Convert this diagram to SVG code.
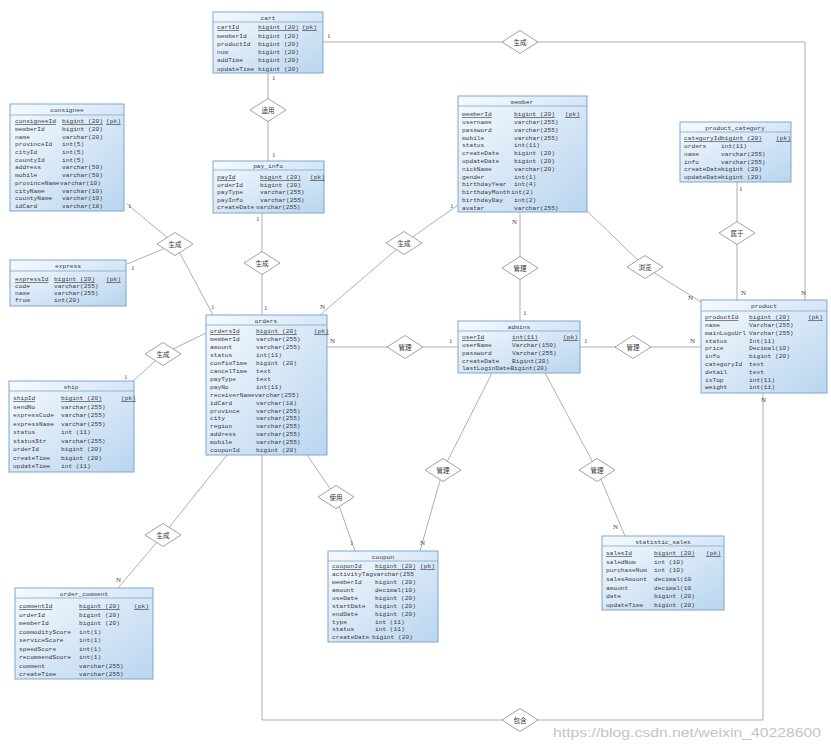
<svg xmlns="http://www.w3.org/2000/svg" xmlns:xlink="http://www.w3.org/1999/xlink" width="831" height="751" viewBox="0 0 831 751">
<defs>
<linearGradient id="g" x1="0" y1="0" x2="1" y2="1">
<stop offset="0" stop-color="#f6fafe"/>
<stop offset="1" stop-color="#b9d5ef"/>
</linearGradient>
<polygon id="dia" points="-18,0 0,-11.5 18,0 0,11.5" fill="#ffffff" stroke="#8a8a8a" stroke-width="0.8"/>
</defs>
<style>
.box{fill:url(#g);stroke:#7ba7d3;stroke-width:1}
.hl{stroke:#7ba7d3;stroke-width:0.8}
.t{font-family:"Liberation Mono",monospace;font-size:6.2px;fill:#3a3a3a}
.ttl{font-family:"Liberation Mono",monospace;font-size:6.2px;fill:#3a3a3a;text-anchor:middle}
.pk{text-decoration:underline}
.rl{font-family:"Noto Sans CJK SC",sans-serif;font-size:6.5px;fill:#333;text-anchor:middle}
.cd{font-family:"Liberation Serif",serif;font-size:7px;fill:#444}
.ln{stroke:#9a9a9a;stroke-width:0.8;fill:none}
.wm{font-family:"Liberation Sans",sans-serif;font-size:13px;fill:#c4c4c4}
</style>
<rect width="831" height="751" fill="#ffffff"/>

<g id="connectors">
<polyline class="ln" points="323,42 805,42 805,300"/>
<line class="ln" x1="268" y1="73" x2="268" y2="161"/>
<line class="ln" x1="127" y1="204" x2="175" y2="244"/>
<line class="ln" x1="127" y1="264" x2="175" y2="244"/>
<line class="ln" x1="175" y1="244" x2="213" y2="315"/>
<line class="ln" x1="262" y1="213" x2="262" y2="315"/>
<polyline class="ln" points="458,205 404,243 320,315"/>
<line class="ln" x1="520" y1="212" x2="520" y2="321"/>
<polyline class="ln" points="586,210 645,267 701,302"/>
<line class="ln" x1="737" y1="182" x2="737" y2="300"/>
<line class="ln" x1="327" y1="347" x2="458" y2="347"/>
<line class="ln" x1="580" y1="347" x2="701" y2="347"/>
<polyline class="ln" points="492,373 443,470 420,551"/>
<polyline class="ln" points="545,373 597,470 625,536"/>
<polyline class="ln" points="307,455 336,497 355,551"/>
<polyline class="ln" points="206,333 163,354 133,381"/>
<polyline class="ln" points="227,455 163,535 118,588"/>
<polyline class="ln" points="262,455 262,720 763,720 763,393"/>
</g>

<g id="relationships">
<g id="r1"><use xlink:href="#dia" x="520" y="42"/><text class="rl" x="520" y="44.5">生成</text></g>
<g id="r2"><use xlink:href="#dia" x="268" y="110"/><text class="rl" x="268" y="112.5">适用</text></g>
<g id="r3"><use xlink:href="#dia" x="175" y="244"/><text class="rl" x="175" y="246.5">生成</text></g>
<g id="r4"><use xlink:href="#dia" x="262" y="263"/><text class="rl" x="262" y="265.5">生成</text></g>
<g id="r5"><use xlink:href="#dia" x="404" y="243"/><text class="rl" x="404" y="245.5">生成</text></g>
<g id="r6"><use xlink:href="#dia" x="520" y="268"/><text class="rl" x="520" y="270.5">管理</text></g>
<g id="r7"><use xlink:href="#dia" x="645" y="267"/><text class="rl" x="645" y="269.5">浏览</text></g>
<g id="r8"><use xlink:href="#dia" x="737" y="233"/><text class="rl" x="737" y="235.5">属于</text></g>
<g id="r9"><use xlink:href="#dia" x="405" y="347"/><text class="rl" x="405" y="349.5">管理</text></g>
<g id="r10"><use xlink:href="#dia" x="633" y="347"/><text class="rl" x="633" y="349.5">管理</text></g>
<g id="r11"><use xlink:href="#dia" x="163" y="354"/><text class="rl" x="163" y="356.5">生成</text></g>
<g id="r12"><use xlink:href="#dia" x="443" y="470"/><text class="rl" x="443" y="472.5">管理</text></g>
<g id="r13"><use xlink:href="#dia" x="597" y="470"/><text class="rl" x="597" y="472.5">管理</text></g>
<g id="r14"><use xlink:href="#dia" x="336" y="497"/><text class="rl" x="336" y="499.5">使用</text></g>
<g id="r15"><use xlink:href="#dia" x="163" y="535"/><text class="rl" x="163" y="537.5">生成</text></g>
<g id="r16"><use xlink:href="#dia" x="520" y="720"/><text class="rl" x="520" y="722.5">包含</text></g>
</g>

<g id="cardinalities">
<text class="cd" x="327" y="38">1</text>
<text class="cd" x="272" y="80">1</text>
<text class="cd" x="272" y="157">1</text>
<text class="cd" x="128" y="208">1</text>
<text class="cd" x="131" y="270">1</text>
<text class="cd" x="211" y="309">1</text>
<text class="cd" x="256" y="221">1</text>
<text class="cd" x="264" y="310">1</text>
<text class="cd" x="450" y="208">1</text>
<text class="cd" x="320" y="309">N</text>
<text class="cd" x="512" y="224">N</text>
<text class="cd" x="523" y="315">1</text>
<text class="cd" x="688" y="300">N</text>
<text class="cd" x="739" y="191">1</text>
<text class="cd" x="741" y="295">N</text>
<text class="cd" x="801" y="295">N</text>
<text class="cd" x="330" y="343">N</text>
<text class="cd" x="449" y="343">1</text>
<text class="cd" x="584" y="343">1</text>
<text class="cd" x="690" y="343">N</text>
<text class="cd" x="420" y="545">N</text>
<text class="cd" x="613" y="529">N</text>
<text class="cd" x="350" y="545">1</text>
<text class="cd" x="124" y="379">1</text>
<text class="cd" x="116" y="582">N</text>
<text class="cd" x="761" y="402">N</text>
</g>

<g id="cart">
<rect class="box" x="213" y="12" width="110" height="61"/>
<line class="hl" x1="213" y1="22" x2="323" y2="22"/>
<text class="ttl" x="268" y="19.5">cart</text>
<text class="t" y="29.2"><tspan class="pk" x="217">cartId</tspan><tspan class="pk" x="258">bigint (20)</tspan><tspan class="pk" x="302">(pk)</tspan></text>
<text class="t" y="37.5"><tspan x="217">memberId</tspan><tspan x="258">bigint (20)</tspan></text>
<text class="t" y="45.8"><tspan x="217">productId</tspan><tspan x="258">bigint (20)</tspan></text>
<text class="t" y="54.1"><tspan x="217">num</tspan><tspan x="258">bigint (20)</tspan></text>
<text class="t" y="62.4"><tspan x="217">addTime</tspan><tspan x="258">bigint (20)</tspan></text>
<text class="t" y="70.7"><tspan x="217">updateTime</tspan><tspan x="258">bigint (20)</tspan></text>
</g>

<g id="consignee">
<rect class="box" x="10" y="104" width="114" height="107"/>
<line class="hl" x1="10" y1="115" x2="124" y2="115"/>
<text class="ttl" x="67" y="112">consignee</text>
<text class="t" y="123.2"><tspan class="pk" x="15">consigneeId</tspan><tspan class="pk" x="62">bigint (20)</tspan><tspan class="pk" x="106">(pk)</tspan></text>
<text class="t" y="130.9"><tspan x="15">memberId</tspan><tspan x="62">bigint (20)</tspan></text>
<text class="t" y="138.6"><tspan x="15">name</tspan><tspan x="62">varchar(20)</tspan></text>
<text class="t" y="146.3"><tspan x="15">provinceId</tspan><tspan x="62">int(5)</tspan></text>
<text class="t" y="154"><tspan x="15">cityId</tspan><tspan x="62">int(5)</tspan></text>
<text class="t" y="161.7"><tspan x="15">countyId</tspan><tspan x="62">int(5)</tspan></text>
<text class="t" y="169.4"><tspan x="15">address</tspan><tspan x="62">varchar(50)</tspan></text>
<text class="t" y="177.1"><tspan x="15">mobile</tspan><tspan x="62">varchar(50)</tspan></text>
<text class="t" y="184.8"><tspan x="15">provinceName</tspan><tspan x="60">varchar(10)</tspan></text>
<text class="t" y="192.5"><tspan x="15">cityName</tspan><tspan x="62">varchar(10)</tspan></text>
<text class="t" y="200.2"><tspan x="15">countyName</tspan><tspan x="62">varchar(10)</tspan></text>
<text class="t" y="207.9"><tspan x="15">idCard</tspan><tspan x="62">varchar(18)</tspan></text>
</g>

<g id="pay_info">
<rect class="box" x="213" y="161" width="111" height="52"/>
<line class="hl" x1="213" y1="170" x2="324" y2="170"/>
<text class="ttl" x="268" y="168">pay_info</text>
<text class="t" y="179.2"><tspan class="pk" x="217">payId</tspan><tspan class="pk" x="260">bigint (20)</tspan><tspan class="pk" x="310">(pk)</tspan></text>
<text class="t" y="186.7"><tspan x="217">orderId</tspan><tspan x="260">bigint (20)</tspan></text>
<text class="t" y="194.2"><tspan x="217">payType</tspan><tspan x="260">varchar(255)</tspan></text>
<text class="t" y="201.7"><tspan x="217">payInfo</tspan><tspan x="260">varchar(255)</tspan></text>
<text class="t" y="209.2"><tspan x="217">createDate</tspan><tspan x="256">varchar(255)</tspan></text>
</g>

<g id="member">
<rect class="box" x="458" y="96" width="129" height="116"/>
<line class="hl" x1="458" y1="106" x2="587" y2="106"/>
<text class="ttl" x="522" y="103.5">member</text>
<text class="t" y="116.2"><tspan class="pk" x="462">memberId</tspan><tspan class="pk" x="514">bigint (20)</tspan><tspan class="pk" x="565">(pk)</tspan></text>
<text class="t" y="124"><tspan x="462">username</tspan><tspan x="514">varchar(255)</tspan></text>
<text class="t" y="131.8"><tspan x="462">password</tspan><tspan x="514">varchar(255)</tspan></text>
<text class="t" y="139.6"><tspan x="462">mobile</tspan><tspan x="514">varchar(255)</tspan></text>
<text class="t" y="147.4"><tspan x="462">status</tspan><tspan x="514">int(11)</tspan></text>
<text class="t" y="155.2"><tspan x="462">createDate</tspan><tspan x="514">bigint (20)</tspan></text>
<text class="t" y="163"><tspan x="462">updateDate</tspan><tspan x="514">bigint (20)</tspan></text>
<text class="t" y="170.8"><tspan x="462">nickName</tspan><tspan x="514">varchar(20)</tspan></text>
<text class="t" y="178.6"><tspan x="462">gender</tspan><tspan x="514">int(1)</tspan></text>
<text class="t" y="186.4"><tspan x="462">birthdayYear</tspan><tspan x="514">int(4)</tspan></text>
<text class="t" y="194.2"><tspan x="462">birthdayMonth</tspan><tspan x="511">int(2)</tspan></text>
<text class="t" y="202"><tspan x="462">birthdayDay</tspan><tspan x="514">int(2)</tspan></text>
<text class="t" y="209.8"><tspan x="462">avatar</tspan><tspan x="514">varchar(255)</tspan></text>
</g>

<g id="product_category">
<rect class="box" x="680" y="122" width="111" height="60"/>
<line class="hl" x1="680" y1="132" x2="791" y2="132"/>
<text class="ttl" x="735" y="129.5">product_category</text>
<text class="t" y="140.2"><tspan class="pk" x="684">categoryId</tspan><tspan class="pk" x="721">bigint (20)</tspan><tspan class="pk" x="776">(pk)</tspan></text>
<text class="t" y="148"><tspan x="684">orders</tspan><tspan x="721">int(11)</tspan></text>
<text class="t" y="155.8"><tspan x="684">name</tspan><tspan x="721">varchar(255)</tspan></text>
<text class="t" y="163.6"><tspan x="684">info</tspan><tspan x="721">varchar(255)</tspan></text>
<text class="t" y="171.4"><tspan x="684">createDate</tspan><tspan x="721">bigint (20)</tspan></text>
<text class="t" y="179.2"><tspan x="684">updateDate</tspan><tspan x="721">bigint (20)</tspan></text>
</g>

<g id="express">
<rect class="box" x="10" y="260" width="116" height="46"/>
<line class="hl" x1="10" y1="271" x2="126" y2="271"/>
<text class="ttl" x="68" y="268">express</text>
<text class="t" y="281.2"><tspan class="pk" x="15">expressId</tspan><tspan class="pk" x="54">bigint (20)</tspan><tspan class="pk" x="106">(pk)</tspan></text>
<text class="t" y="288"><tspan x="15">code</tspan><tspan x="54">varchar(255)</tspan></text>
<text class="t" y="294.8"><tspan x="15">name</tspan><tspan x="54">varchar(255)</tspan></text>
<text class="t" y="301.6"><tspan x="15">from</tspan><tspan x="54">int(20)</tspan></text>
</g>

<g id="orders">
<rect class="box" x="206" y="315" width="121" height="140"/>
<line class="hl" x1="206" y1="325" x2="327" y2="325"/>
<text class="ttl" x="266" y="322.5">orders</text>
<text class="t" y="333.2"><tspan class="pk" x="210">ordersId</tspan><tspan class="pk" x="256">bigint (20)</tspan><tspan class="pk" x="314">(pk)</tspan></text>
<text class="t" y="341.1"><tspan x="210">memberId</tspan><tspan x="256">varchar(255)</tspan></text>
<text class="t" y="349.1"><tspan x="210">amount</tspan><tspan x="256">varchar(255)</tspan></text>
<text class="t" y="357"><tspan x="210">status</tspan><tspan x="256">int(11)</tspan></text>
<text class="t" y="364.9"><tspan x="210">confimTime</tspan><tspan x="256">bigint (20)</tspan></text>
<text class="t" y="372.9"><tspan x="210">cancelTime</tspan><tspan x="256">text</tspan></text>
<text class="t" y="380.8"><tspan x="210">payType</tspan><tspan x="256">text</tspan></text>
<text class="t" y="388.7"><tspan x="210">payNo</tspan><tspan x="256">int(11)</tspan></text>
<text class="t" y="396.6"><tspan x="210">receiverName</tspan><tspan x="254.6">varchar(255)</tspan></text>
<text class="t" y="404.6"><tspan x="210">idCard</tspan><tspan x="256">varchar(18)</tspan></text>
<text class="t" y="412.5"><tspan x="210">province</tspan><tspan x="256">varchar(255)</tspan></text>
<text class="t" y="420.4"><tspan x="210">city</tspan><tspan x="256">varchar(255)</tspan></text>
<text class="t" y="428.4"><tspan x="210">region</tspan><tspan x="256">varchar(255)</tspan></text>
<text class="t" y="436.3"><tspan x="210">address</tspan><tspan x="256">varchar(255)</tspan></text>
<text class="t" y="444.2"><tspan x="210">mobile</tspan><tspan x="256">varchar(255)</tspan></text>
<text class="t" y="452.2"><tspan x="210">couponId</tspan><tspan x="256">bigint (20)</tspan></text>
</g>

<g id="admins">
<rect class="box" x="458" y="321" width="122" height="52"/>
<line class="hl" x1="458" y1="331" x2="580" y2="331"/>
<text class="ttl" x="519" y="328.5">admins</text>
<text class="t" y="339.2"><tspan class="pk" x="462">userId</tspan><tspan class="pk" x="512">int(11)</tspan><tspan class="pk" x="563">(pk)</tspan></text>
<text class="t" y="347"><tspan x="462">userName</tspan><tspan x="512">Varchar(150)</tspan></text>
<text class="t" y="354.7"><tspan x="462">password</tspan><tspan x="512">Varchar(255)</tspan></text>
<text class="t" y="362.5"><tspan x="462">createDate</tspan><tspan x="512">Bigint(20)</tspan></text>
<text class="t" y="370.2"><tspan x="462">lastLoginDate</tspan><tspan x="510.4">Bigint(20)</tspan></text>
</g>

<g id="product">
<rect class="box" x="701" y="300" width="126" height="93"/>
<line class="hl" x1="701" y1="311" x2="827" y2="311"/>
<text class="ttl" x="764" y="308">product</text>
<text class="t" y="319.2"><tspan class="pk" x="705">productId</tspan><tspan class="pk" x="749">bigint (20)</tspan><tspan class="pk" x="808">(pk)</tspan></text>
<text class="t" y="327"><tspan x="705">name</tspan><tspan x="749">Varchar(255)</tspan></text>
<text class="t" y="334.8"><tspan x="705">mainLogoUrl</tspan><tspan x="749">Varchar(255)</tspan></text>
<text class="t" y="342.6"><tspan x="705">status</tspan><tspan x="749">Int(11)</tspan></text>
<text class="t" y="350.4"><tspan x="705">price</tspan><tspan x="749">Decimal(10)</tspan></text>
<text class="t" y="358.2"><tspan x="705">info</tspan><tspan x="749">bigint (20)</tspan></text>
<text class="t" y="366"><tspan x="705">categoryId</tspan><tspan x="749">text</tspan></text>
<text class="t" y="373.8"><tspan x="705">detail</tspan><tspan x="749">text</tspan></text>
<text class="t" y="381.6"><tspan x="705">isTop</tspan><tspan x="749">int(11)</tspan></text>
<text class="t" y="389.4"><tspan x="705">weight</tspan><tspan x="749">int(11)</tspan></text>
</g>

<g id="ship">
<rect class="box" x="9" y="381" width="125" height="91"/>
<line class="hl" x1="9" y1="391" x2="134" y2="391"/>
<text class="ttl" x="71" y="388.5">ship</text>
<text class="t" y="400.2"><tspan class="pk" x="13">shipId</tspan><tspan class="pk" x="61">bigint (20)</tspan><tspan class="pk" x="121">(pk)</tspan></text>
<text class="t" y="408.7"><tspan x="13">sendNo</tspan><tspan x="61">varchar(255)</tspan></text>
<text class="t" y="417.2"><tspan x="13">expressCode</tspan><tspan x="61">varchar(255)</tspan></text>
<text class="t" y="425.7"><tspan x="13">expressName</tspan><tspan x="61">varchar(255)</tspan></text>
<text class="t" y="434.2"><tspan x="13">status</tspan><tspan x="61">int (11)</tspan></text>
<text class="t" y="442.7"><tspan x="13">statusStr</tspan><tspan x="61">varchar(255)</tspan></text>
<text class="t" y="451.2"><tspan x="13">orderId</tspan><tspan x="61">bigint (20)</tspan></text>
<text class="t" y="459.7"><tspan x="13">createTime</tspan><tspan x="61">bigint (20)</tspan></text>
<text class="t" y="468.2"><tspan x="13">updateTime</tspan><tspan x="61">int (11)</tspan></text>
</g>

<g id="coupon">
<rect class="box" x="328" y="551" width="110" height="91"/>
<line class="hl" x1="328" y1="561" x2="438" y2="561"/>
<text class="ttl" x="383" y="558.5">coupon</text>
<text class="t" y="568.2"><tspan class="pk" x="332">couponId</tspan><tspan class="pk" x="375">bigint (20)</tspan><tspan class="pk" x="420">(pk)</tspan></text>
<text class="t" y="576.1"><tspan x="332">activityTag</tspan><tspan x="373">varchar(255</tspan></text>
<text class="t" y="584"><tspan x="332">memberId</tspan><tspan x="375">bigint (20)</tspan></text>
<text class="t" y="591.9"><tspan x="332">amount</tspan><tspan x="375">decimal(10)</tspan></text>
<text class="t" y="599.8"><tspan x="332">useDate</tspan><tspan x="375">bigint (20)</tspan></text>
<text class="t" y="607.7"><tspan x="332">startDate</tspan><tspan x="375">bigint (20)</tspan></text>
<text class="t" y="615.6"><tspan x="332">endDate</tspan><tspan x="375">bigint (20)</tspan></text>
<text class="t" y="623.5"><tspan x="332">type</tspan><tspan x="375">int (11)</tspan></text>
<text class="t" y="631.4"><tspan x="332">status</tspan><tspan x="375">int (11)</tspan></text>
<text class="t" y="639.3"><tspan x="332">createDate</tspan><tspan x="372">bigint (20)</tspan></text>
</g>

<g id="statistic_sales">
<rect class="box" x="602" y="536" width="122" height="74"/>
<line class="hl" x1="602" y1="546" x2="724" y2="546"/>
<text class="ttl" x="663" y="543.5">statistic_sales</text>
<text class="t" y="555.2"><tspan class="pk" x="606">salesId</tspan><tspan class="pk" x="654">bigint (20)</tspan><tspan class="pk" x="706">(pk)</tspan></text>
<text class="t" y="563.8"><tspan x="606">saledNum</tspan><tspan x="654">int (10)</tspan></text>
<text class="t" y="572.4"><tspan x="606">purchaseNum</tspan><tspan x="654">int (10)</tspan></text>
<text class="t" y="581"><tspan x="606">salesAmount</tspan><tspan x="654">decimal(10</tspan></text>
<text class="t" y="589.6"><tspan x="606">amount</tspan><tspan x="654">decimal(10</tspan></text>
<text class="t" y="598.2"><tspan x="606">date</tspan><tspan x="654">bigint (20)</tspan></text>
<text class="t" y="606.8"><tspan x="606">updateTime</tspan><tspan x="654">bigint (20)</tspan></text>
</g>

<g id="order_comment">
<rect class="box" x="15" y="588" width="138" height="91"/>
<line class="hl" x1="15" y1="598" x2="153" y2="598"/>
<text class="ttl" x="84" y="595.5">order_comment</text>
<text class="t" y="608.2"><tspan class="pk" x="19">commentId</tspan><tspan class="pk" x="79">bigint (20)</tspan><tspan class="pk" x="134">(pk)</tspan></text>
<text class="t" y="616.7"><tspan x="19">orderId</tspan><tspan x="79">bigint (20)</tspan></text>
<text class="t" y="625.2"><tspan x="19">memberId</tspan><tspan x="79">bigint (20)</tspan></text>
<text class="t" y="633.7"><tspan x="19">commodityScore</tspan><tspan x="79">int(1)</tspan></text>
<text class="t" y="642.2"><tspan x="19">serviceScore</tspan><tspan x="79">int(1)</tspan></text>
<text class="t" y="650.7"><tspan x="19">speedScore</tspan><tspan x="79">int(1)</tspan></text>
<text class="t" y="659.2"><tspan x="19">recommendScore</tspan><tspan x="79">int(1)</tspan></text>
<text class="t" y="667.7"><tspan x="19">comment</tspan><tspan x="79">varchar(255)</tspan></text>
<text class="t" y="676.2"><tspan x="19">createTime</tspan><tspan x="79">varchar(255)</tspan></text>
</g>

<text class="wm" x="553" y="737" textLength="268" lengthAdjust="spacingAndGlyphs">https://blog.csdn.net/weixin_40228600</text>
</svg>
